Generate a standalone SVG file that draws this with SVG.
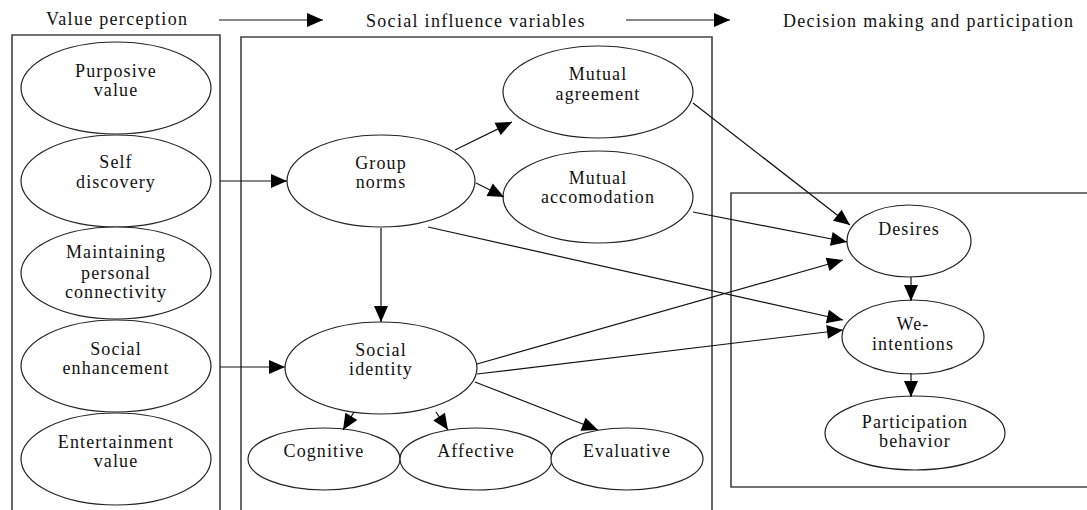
<svg xmlns="http://www.w3.org/2000/svg" width="1087" height="510" viewBox="0 0 1087 510">
<defs>
<style>
.box{fill:none;stroke:#444;stroke-width:1.6}
.node ellipse{fill:#fff;stroke:#222;stroke-width:1.2}
text{font-family:"Liberation Serif","Times New Roman",serif;font-size:18px;letter-spacing:1.1px;fill:#111;text-anchor:middle}
.hdr{font-size:18px;letter-spacing:1.3px;text-anchor:start}
.edge{stroke:#111;stroke-width:1.2;fill:none;marker-end:url(#ah)}
</style>
<marker id="ah" markerUnits="userSpaceOnUse" markerWidth="16" markerHeight="14" refX="16" refY="7" orient="auto" overflow="visible">
<path d="M0,0 L16,7 L0,14 z" fill="#000"/>
</marker>
</defs>
<rect width="1087" height="510" fill="#fff"/>
<g id="frames">
<path class="box" d="M12,515 V35 H220 V515"/>
<path class="box" d="M241,515 V37 H712 V515"/>
<path class="box" d="M1090,193 H731 V487 H1090"/>
</g>
<g id="headers">
<text class="hdr" x="46" y="25">Value perception</text>
<text class="hdr" x="366" y="27">Social influence variables</text>
<text class="hdr" x="783" y="27">Decision making and participation</text>
</g>
<g id="purposive" class="node"><ellipse cx="116" cy="88" rx="95" ry="46"/><text x="116" y="77">Purposive</text><text x="116" y="96">value</text></g>
<g id="self_discovery" class="node"><ellipse cx="116" cy="181" rx="95" ry="46"/><text x="116" y="168">Self</text><text x="116" y="188">discovery</text></g>
<g id="maintaining" class="node"><ellipse cx="116" cy="273" rx="95" ry="46"/><text x="116" y="258">Maintaining</text><text x="116" y="279">personal</text><text x="116" y="298">connectivity</text></g>
<g id="social_enhancement" class="node"><ellipse cx="116" cy="366" rx="95" ry="46"/><text x="116" y="355">Social</text><text x="116" y="374">enhancement</text></g>
<g id="entertainment" class="node"><ellipse cx="116" cy="459" rx="95" ry="46"/><text x="116" y="448">Entertainment</text><text x="116" y="467">value</text></g>
<g id="group_norms" class="node"><ellipse cx="381" cy="181" rx="94" ry="46"/><text x="381" y="169">Group</text><text x="381" y="188">norms</text></g>
<g id="social_identity" class="node"><ellipse cx="381" cy="368" rx="96" ry="46"/><text x="381" y="356">Social</text><text x="381" y="375">identity</text></g>
<g id="mutual_agreement" class="node"><ellipse cx="598" cy="92" rx="95" ry="46"/><text x="598" y="80">Mutual</text><text x="598" y="100">agreement</text></g>
<g id="mutual_accomodation" class="node"><ellipse cx="598" cy="197" rx="95" ry="46"/><text x="598" y="184">Mutual</text><text x="598" y="203">accomodation</text></g>
<g id="cognitive" class="node"><ellipse cx="324" cy="459" rx="76" ry="31"/><text x="324" y="457">Cognitive</text></g>
<g id="affective" class="node"><ellipse cx="476" cy="459" rx="76" ry="31"/><text x="476" y="457">Affective</text></g>
<g id="evaluative" class="node"><ellipse cx="627" cy="459" rx="76" ry="31"/><text x="627" y="457">Evaluative</text></g>
<g id="desires" class="node"><ellipse cx="909" cy="241" rx="62" ry="36"/><text x="909" y="235">Desires</text></g>
<g id="we_intentions" class="node"><ellipse cx="913" cy="337" rx="71" ry="37"/><text x="913" y="330">We-</text><text x="913" y="350">intentions</text></g>
<g id="participation" class="node"><ellipse cx="915" cy="433" rx="90" ry="37"/><text x="915" y="428">Participation</text><text x="915" y="447">behavior</text></g>
<g id="connectors">
<line class="edge" x1="219" y1="20" x2="323" y2="20"/>
<line class="edge" x1="626" y1="20" x2="730" y2="20"/>
<line class="edge" x1="220" y1="181" x2="287" y2="181"/>
<line class="edge" x1="220" y1="367" x2="285" y2="367"/>
<line class="edge" x1="381" y1="228" x2="381" y2="322"/>
<line class="edge" x1="455" y1="150" x2="512" y2="122"/>
<line class="edge" x1="476" y1="183" x2="504" y2="197"/>
<line class="edge" x1="428" y1="227" x2="843" y2="320"/>
<line class="edge" x1="693" y1="103" x2="850" y2="225"/>
<line class="edge" x1="693" y1="212" x2="847" y2="242"/>
<line class="edge" x1="477" y1="364" x2="843" y2="260"/>
<line class="edge" x1="477" y1="374" x2="843" y2="330"/>
<line class="edge" x1="354" y1="412" x2="343" y2="430"/>
<line class="edge" x1="436" y1="412" x2="448" y2="430"/>
<line class="edge" x1="475" y1="382" x2="598" y2="430"/>
<line class="edge" x1="911" y1="277" x2="911" y2="301"/>
<line class="edge" x1="911" y1="373" x2="911" y2="397"/>
</g>
</svg>
